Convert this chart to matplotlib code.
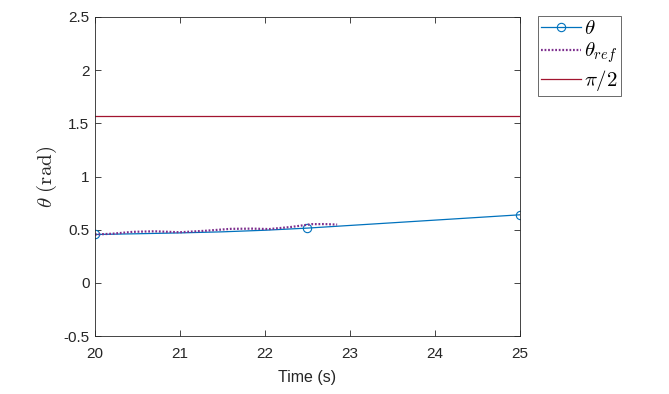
import numpy as np
import matplotlib
matplotlib.use("Agg")
import matplotlib.pyplot as plt
from matplotlib.lines import Line2D

plt.rcParams['mathtext.fontset'] = 'cm'
plt.rcParams['font.family'] = ['Liberation Sans', 'DejaVu Sans']

# data
t_theta = [20.0, 20.5, 21.0, 21.5, 22.0, 22.5, 23.0, 23.5, 24.0, 24.5, 25.0]
theta = [0.455, 0.462, 0.470, 0.480, 0.495, 0.515, 0.540, 0.565, 0.590, 0.615, 0.640]
marker_t = [20.0, 22.5, 25.0]
marker_theta = [0.455, 0.515, 0.640]
t_ref = [20.0, 20.2, 20.45, 20.7, 21.0, 21.3, 21.6, 21.85, 22.05, 22.3, 22.55, 22.7, 22.85]
theta_ref = [0.455, 0.462, 0.480, 0.485, 0.476, 0.490, 0.508, 0.510, 0.506, 0.525, 0.552, 0.553, 0.548]
half_pi = np.pi / 2
x_ticks = [20, 21, 22, 23, 24, 25]
y_ticks = [-0.5, 0, 0.5, 1, 1.5, 2, 2.5]
y_ticklabels = ['-0.5', '0', '0.5', '1', '1.5', '2', '2.5']

fig = plt.figure(figsize=(6.69, 3.94), dpi=100)
ax = fig.add_axes([0.142, 0.147, 0.635, 0.81])

blue = '#0072BD'
purple = '#7E2F8E'
red = '#A2142F'

ax.plot(t_theta, theta, color=blue, lw=0.9)
ax.plot(marker_t, marker_theta, 'o', mfc='none', mec=blue, ms=6, mew=0.8)
ax.plot(t_ref, theta_ref, color=purple, lw=1.6, ls=(0, (0.8, 0.8)))
ax.plot([20, 25], [half_pi, half_pi], color=red, lw=0.9)

handles = [
    Line2D([], [], color=blue, lw=0.9, marker='o', mfc='none', mec=blue, ms=6, mew=0.8),
    Line2D([], [], color=purple, lw=1.6, ls=(0, (0.8, 0.8))),
    Line2D([], [], color=red, lw=0.9),
]
leg = fig.legend(handles, [r'$\theta$', r'$\theta_{ref}$', r'$\pi/2$'],
                 loc='upper left', bbox_to_anchor=(538/669, 1 - 16/394),
                 frameon=True, fancybox=False, edgecolor='#262626',
                 fontsize=15, handlelength=1.9, handletextpad=0.15,
                 borderpad=0.15, labelspacing=0.12, borderaxespad=0,
                 numpoints=1)
leg.get_frame().set_linewidth(0.6)

ax.set_xlim(20, 25)
ax.set_ylim(-0.5, 2.5)
ax.set_xticks(x_ticks)
ax.set_yticks(y_ticks)
ax.set_yticklabels(y_ticklabels)
ax.tick_params(direction='in', top=True, right=True, labelsize=11, length=4,
               width=0.6, colors='#262626')
ax.tick_params(axis='x', pad=8)
ax.tick_params(axis='y', pad=4)
for s in ax.spines.values():
    s.set_linewidth(0.6)
    s.set_color('#262626')
ax.set_xlabel('Time (s)', fontsize=11.5, color='#262626', labelpad=6)
ax.set_ylabel(r'$\theta\ \mathrm{(rad)}$', fontsize=15, color='#262626', labelpad=3)

fig.savefig('out.png', dpi=100)
